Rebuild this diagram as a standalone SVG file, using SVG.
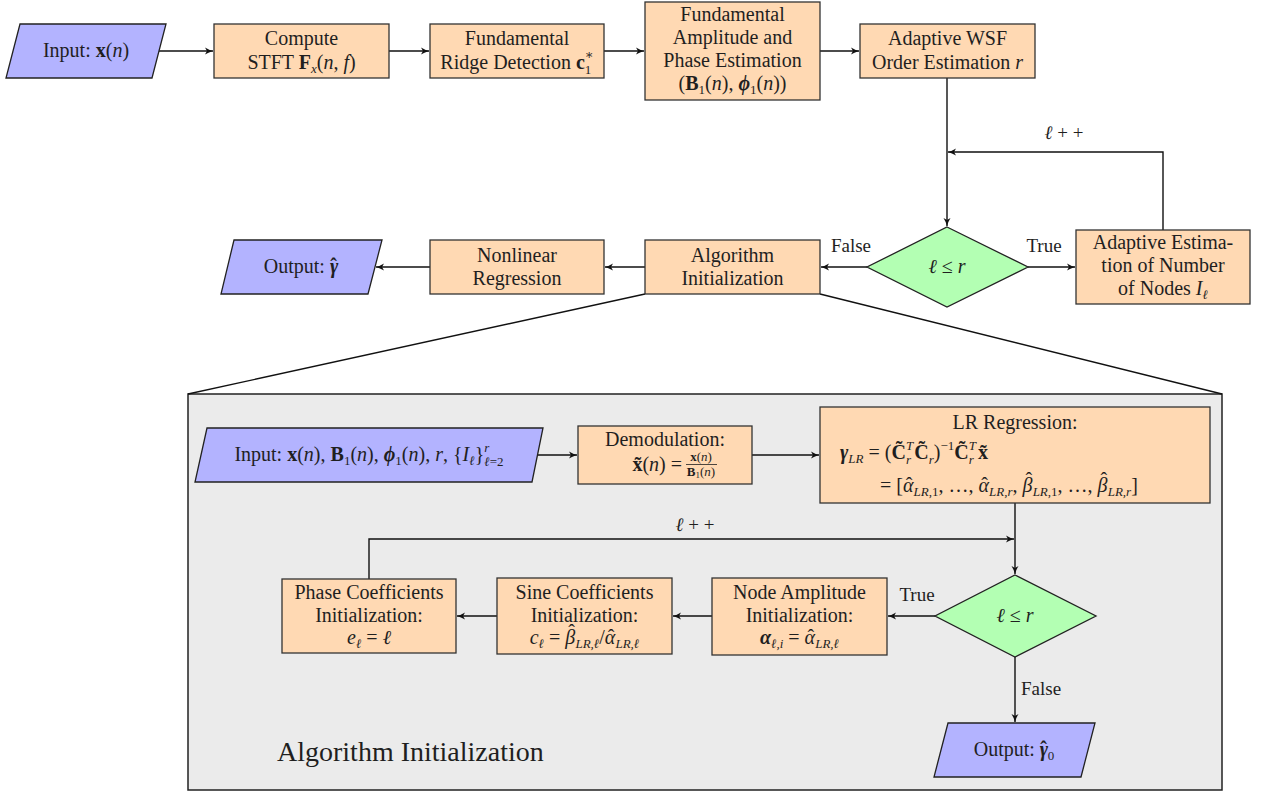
<svg xmlns="http://www.w3.org/2000/svg" width="1266" height="795" viewBox="0 0 1266 795">
<defs>
<style>
.box{fill:#FFD9B3;stroke:#333;stroke-width:1.3}
.io{fill:#B3B3FF;stroke:#222;stroke-width:1.3}
.dec{fill:#B3FFB3;stroke:#222;stroke-width:1.3}
.panel{fill:#EBEBEB;stroke:#222;stroke-width:1.5}
.t{font-family:"Liberation Serif","Times New Roman","DejaVu Serif",serif;font-size:20px;fill:#1f1f1f;text-anchor:middle}
.tl{text-anchor:start}
.te{text-anchor:end}
.lab{font-size:19px}
.i{font-style:italic}
.b{font-weight:bold}
.s{font-size:13px}
.edge{stroke:#111;stroke-width:1.4;fill:none;marker-end:url(#arr)}
.plain{stroke:#111;stroke-width:1.4;fill:none}
</style>
<marker id="arr" markerWidth="10" markerHeight="10" refX="8" refY="4" orient="auto" markerUnits="userSpaceOnUse">
<path d="M0,0.5 Q4,3 8,4 Q4,5 0,7.5 L2,4 Z" fill="#111"/>
</marker>
</defs>
<rect width="1266" height="795" fill="#ffffff"/>

<g id="panel-bg">
<rect class="panel" x="188" y="394" width="1034" height="396"/>
</g>

<g id="connectors">
<path class="edge" d="M159,51 H213"/>
<path class="edge" d="M389,51 H429"/>
<path class="edge" d="M604,51 H644"/>
<path class="edge" d="M820,51 H859"/>
<path class="edge" d="M947,78 V226"/>
<path class="edge" d="M1163,230 V152 H948"/>
<path class="edge" d="M867,267 H821"/>
<path class="edge" d="M1028,267 H1075"/>
<path class="edge" d="M645,267 H605"/>
<path class="edge" d="M430,267 H376"/>
<path class="plain" d="M645,294 L188,394"/>
<path class="plain" d="M820,294 L1222,394"/>
<path class="edge" d="M538,455 H577"/>
<path class="edge" d="M752,455 H819"/>
<path class="edge" d="M1015,503 V574"/>
<path class="edge" d="M369,579 V539 H1014"/>
<path class="edge" d="M935,616 H888"/>
<path class="edge" d="M713,616 H673"/>
<path class="edge" d="M497,616 H457"/>
<path class="edge" d="M1015,657 V722"/>
<text class="t lab" x="851" y="252">False</text>
<text class="t lab" x="1044" y="252">True</text>
<text class="t lab" x="1064" y="139"><tspan class="i">ℓ</tspan> + +</text>
<text class="t lab" x="695" y="531"><tspan class="i">ℓ</tspan> + +</text>
<text class="t lab" x="917" y="601">True</text>
<text class="t lab tl" x="1021" y="695">False</text>
</g>

<g id="input">
<polygon class="io" points="20,24 166,24 152,78 6,78"/>
<text class="t" x="86" y="57">Input: <tspan class="b">x</tspan>(<tspan class="i">n</tspan>)</text>
</g>

<g id="stft">
<rect class="box" x="214" y="24" width="175" height="54"/>
<text class="t" x="301.5" y="45">Compute</text>
<text class="t" x="301.5" y="69">STFT <tspan class="b">F</tspan><tspan class="s i" dy="4">x</tspan><tspan dy="-4">(</tspan><tspan class="i">n</tspan>, <tspan class="i">f</tspan>)</text>
</g>

<g id="ridge">
<rect class="box" x="430" y="24" width="174" height="54"/>
<text class="t" x="517" y="45">Fundamental</text>
<text class="t" x="517" y="69">Ridge Detection <tspan class="b">c</tspan><tspan class="s" dy="5">1</tspan><tspan class="s" dx="-6.5" dy="-15">∗</tspan></text>
</g>

<g id="amp">
<rect class="box" x="645" y="2" width="175" height="98"/>
<text class="t" x="732.5" y="21">Fundamental</text>
<text class="t" x="732.5" y="44">Amplitude and</text>
<text class="t" x="732.5" y="67">Phase Estimation</text>
<text class="t" x="732.5" y="90">(<tspan class="b">B</tspan><tspan class="s" dy="4">1</tspan><tspan dy="-4">(</tspan><tspan class="i">n</tspan>), <tspan class="b i">ϕ</tspan><tspan class="s" dy="4">1</tspan><tspan dy="-4">(</tspan><tspan class="i">n</tspan>))</text>
</g>

<g id="wsf">
<rect class="box" x="860" y="24" width="175" height="54"/>
<text class="t" x="947.5" y="45">Adaptive WSF</text>
<text class="t" x="947.5" y="69">Order Estimation <tspan class="i">r</tspan></text>
</g>

<g id="cond1">
<polygon class="dec" points="947,227 1028,267 947,307 867,267"/>
<text class="t" x="947" y="273"><tspan class="i">ℓ</tspan> ≤ <tspan class="i">r</tspan></text>
</g>

<g id="adaptive">
<rect class="box" x="1076" y="230" width="174" height="74"/>
<text class="t" x="1163" y="249">Adaptive Estima-</text>
<text class="t" x="1163" y="272">tion of Number</text>
<text class="t" x="1163" y="295">of Nodes <tspan class="i">I</tspan><tspan class="s i" dy="4">ℓ</tspan></text>
</g>

<g id="alginit">
<rect class="box" x="645" y="240" width="175" height="54"/>
<text class="t" x="732.5" y="262">Algorithm</text>
<text class="t" x="732.5" y="285">Initialization</text>
</g>

<g id="nonlin">
<rect class="box" x="430" y="240" width="174" height="54"/>
<text class="t" x="517" y="262">Nonlinear</text>
<text class="t" x="517" y="285">Regression</text>
</g>

<g id="output">
<polygon class="io" points="234,240 382,240 368,294 221,294"/>
<text class="t" x="301" y="273">Output: <tspan class="b i">γ</tspan><tspan class="b" dx="-8">ˆ</tspan></text>
</g>

<g id="in2">
<polygon class="io" points="207,428 543,428 532,482 195,482"/>
<text class="t" x="369" y="461">Input: <tspan class="b">x</tspan>(<tspan class="i">n</tspan>), <tspan class="b">B</tspan><tspan class="s" dy="4">1</tspan><tspan dy="-4">(</tspan><tspan class="i">n</tspan>), <tspan class="b i">ϕ</tspan><tspan class="s" dy="4">1</tspan><tspan dy="-4">(</tspan><tspan class="i">n</tspan>), <tspan class="i">r</tspan>, {<tspan class="i">I</tspan><tspan class="s i" dy="4">ℓ</tspan><tspan dy="-4">}</tspan><tspan class="s i" dy="-9">r</tspan><tspan class="s" dx="-5" dy="14"><tspan class="i">ℓ</tspan>=2</tspan></text>
</g>

<g id="demod">
<rect class="box" x="578" y="426" width="174" height="58"/>
<text class="t" x="665" y="446">Demodulation:</text>
<text class="t te" x="682" y="471"><tspan class="b">x̃</tspan>(<tspan class="i">n</tspan>) =</text>
<text class="t s" x="701" y="461"><tspan class="b">x</tspan>(<tspan class="i">n</tspan>)</text>
<line x1="686" y1="464.5" x2="717" y2="464.5" stroke="#1f1f1f" stroke-width="0.8"/>
<text class="t s" x="701" y="476"><tspan class="b">B</tspan><tspan font-size="9" dy="2">1</tspan><tspan dy="-2">(</tspan><tspan class="i">n</tspan>)</text>
</g>

<g id="lr">
<rect class="box" x="820" y="407" width="390" height="96"/>
<text class="t" x="1015" y="429">LR Regression:</text>
<text class="t tl" x="840" y="459"><tspan class="b i">γ</tspan><tspan class="s i" dy="4">LR</tspan><tspan dy="-4"> = (</tspan><tspan class="b">C̃</tspan><tspan class="s i" dy="5">r</tspan><tspan class="s i" dx="-5" dy="-14">T</tspan><tspan class="b" dx="1" dy="9">C̃</tspan><tspan class="s i" dy="5">r</tspan><tspan dy="-5">)</tspan><tspan class="s" dy="-9">−1</tspan><tspan class="b" dy="9">C̃</tspan><tspan class="s i" dy="5">r</tspan><tspan class="s i" dx="-5" dy="-14">T</tspan><tspan class="b" dx="2" dy="9">x̃</tspan></text>
<text class="t tl" x="880" y="492">= [<tspan class="i">α</tspan><tspan dx="-7.6">ˆ</tspan><tspan class="s" dx="1" dy="4"><tspan class="i">LR</tspan>,1</tspan><tspan dy="-4">, …, </tspan><tspan class="i">α</tspan><tspan dx="-7.6">ˆ</tspan><tspan class="s i" dx="1" dy="4">LR,r</tspan><tspan dy="-4">, </tspan><tspan class="i">β</tspan><tspan dx="-7" dy="-5">ˆ</tspan><tspan class="s" dx="0.5" dy="9"><tspan class="i">LR</tspan>,1</tspan><tspan dy="-4">, …, </tspan><tspan class="i">β</tspan><tspan dx="-7" dy="-5">ˆ</tspan><tspan class="s i" dx="0.5" dy="9">LR,r</tspan><tspan dy="-4">]</tspan></text>
</g>

<g id="cond2">
<polygon class="dec" points="1015,575 1096,616 1015,657 935,616"/>
<text class="t" x="1015" y="622"><tspan class="i">ℓ</tspan> ≤ <tspan class="i">r</tspan></text>
</g>

<g id="nodeamp">
<rect class="box" x="712" y="578" width="175" height="77"/>
<text class="t" x="799.5" y="599">Node Amplitude</text>
<text class="t" x="799.5" y="622">Initialization:</text>
<text class="t" x="799.5" y="644"><tspan class="b i">α</tspan><tspan class="s i" dy="4">ℓ,i</tspan><tspan dy="-4"> = </tspan><tspan class="i">α</tspan><tspan dx="-7.6">ˆ</tspan><tspan class="s i" dx="1" dy="4">LR,ℓ</tspan></text>
</g>

<g id="sine">
<rect class="box" x="497" y="578" width="175" height="76"/>
<text class="t" x="584.5" y="599">Sine Coefficients</text>
<text class="t" x="584.5" y="622">Initialization:</text>
<text class="t" x="584.5" y="644"><tspan class="i">c</tspan><tspan class="s i" dy="4">ℓ</tspan><tspan dy="-4"> = </tspan><tspan class="i">β</tspan><tspan dx="-7" dy="-5">ˆ</tspan><tspan class="s i" dx="0.5" dy="9">LR,ℓ</tspan><tspan dy="-4">/</tspan><tspan class="i">α</tspan><tspan dx="-7.6">ˆ</tspan><tspan class="s i" dx="1" dy="4">LR,ℓ</tspan></text>
</g>

<g id="phase">
<rect class="box" x="282" y="579" width="174" height="74"/>
<text class="t" x="369" y="599">Phase Coefficients</text>
<text class="t" x="369" y="622">Initialization:</text>
<text class="t" x="369" y="644"><tspan class="i">e</tspan><tspan class="s i" dy="4">ℓ</tspan><tspan dy="-4"> = </tspan><tspan class="i">ℓ</tspan></text>
</g>

<g id="out2">
<polygon class="io" points="948,723 1095,723 1081,777 934,777"/>
<text class="t" x="1014" y="756">Output: <tspan class="b i">γ</tspan><tspan class="b" dx="-8">ˆ</tspan><tspan class="s" dx="1" dy="4">0</tspan></text>
</g>

<g id="title">
<text class="t tl" x="277" y="761" style="font-size:28px">Algorithm Initialization</text>
</g>
</svg>
